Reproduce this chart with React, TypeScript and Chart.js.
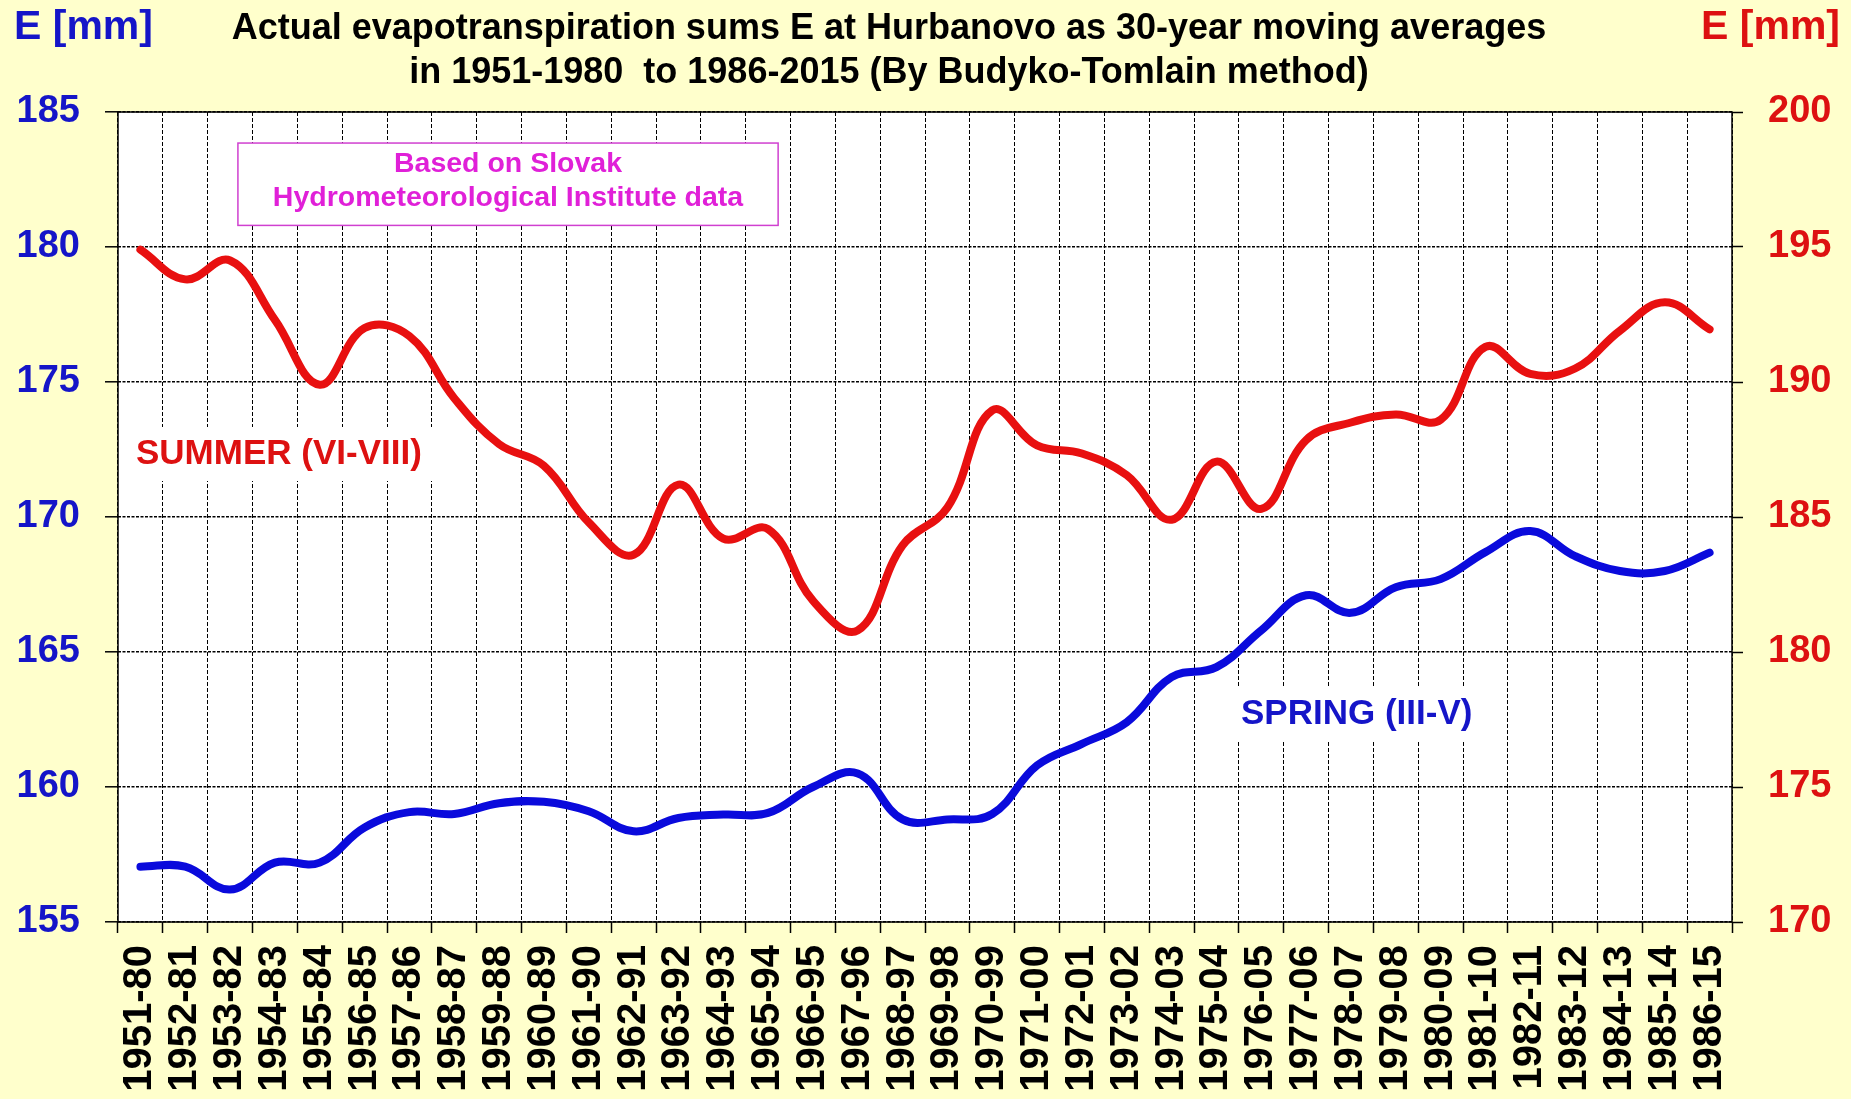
import { useEffect, useRef } from "react";
import { Chart, registerables } from "chart.js";

Chart.register(...registerables);

const periods = [
  "1951-80", "1952-81", "1953-82", "1954-83", "1955-84", "1956-85", "1957-86", "1958-87", "1959-88",
  "1960-89", "1961-90", "1962-91", "1963-92", "1964-93", "1965-94", "1966-95", "1967-96", "1968-97",
  "1969-98", "1970-99", "1971-00", "1972-01", "1973-02", "1974-03", "1975-04", "1976-05", "1977-06",
  "1978-07", "1979-08", "1980-09", "1981-10", "1982-11", "1983-12", "1984-13", "1985-14", "1986-15",
];

// SPRING (III-V), left axis
const springE = [
  157.05, 157.05, 156.2, 157.2, 157.2, 158.5, 159.07, 159.0, 159.4,
  159.45, 159.1, 158.36, 158.85, 158.98, 159.04, 160.0, 160.5, 158.8,
  158.8, 159.0, 160.8, 161.6, 162.4, 164.07, 164.44, 165.8, 167.1,
  166.45, 167.4, 167.7, 168.7, 169.48, 168.55, 168.0, 168.0, 168.68,
];

// SUMMER (VI-VIII), right axis
const summerE = [
  194.9, 193.8, 194.5, 192.3, 189.9, 192.0, 191.7, 189.4, 187.7,
  186.9, 184.8, 183.6, 186.2, 184.2, 184.55, 181.9, 180.8, 183.95,
  185.35, 188.95, 187.65, 187.35, 186.55, 184.9, 187.05, 185.3, 187.85,
  188.5, 188.8, 188.6, 191.3, 190.3, 190.5, 191.9, 192.95, 191.95,
];

const leftTicks = [155, 160, 165, 170, 175, 180, 185];
const rightTicks = [170, 175, 180, 185, 190, 195, 200];

const titleLines = [
  "Actual evapotranspiration sums E at Hurbanovo as 30-year moving averages",
  "in 1951-1980  to 1986-2015 (By Budyko-Tomlain method)",
];
const noteLines = ["Based on Slovak", "Hydrometeorological Institute data"];
const axisUnit = "E [mm]";
const summerLabel = "SUMMER (VI-VIII)";
const springLabel = "SPRING (III-V)";

const FONT = '"Liberation Sans", Arial, Helvetica, sans-serif';
const RED = "#E81010";
const BLUE = "#0A0ADC";
const BLUE_TEXT = "#1515C8";
const RED_TEXT = "#DD1111";
const MAGENTA = "#E020D8";

export default function App() {
  const ref = useRef<HTMLCanvasElement>(null);

  useEffect(() => {
    document.body.style.margin = "0";
    const canvas = ref.current!;

    const overlay = {
      id: "overlay",
      beforeDraw(chart: any) {
        const { ctx, chartArea: a } = chart;
        ctx.save();
        ctx.fillStyle = "#FFFFFF";
        ctx.fillRect(a.left, a.top, a.right - a.left, a.bottom - a.top);
        ctx.restore();
      },
      beforeDatasetsDraw(chart: any) {
        const { ctx, chartArea: a } = chart;
        const y = chart.scales.y;
        const w0 = a.right - a.left;
        ctx.save();
        // note box
        const bx = a.left + w0 * 0.0743;
        const bx2 = a.left + w0 * 0.409;
        const by = y.getPixelForValue(183.85);
        const by2 = y.getPixelForValue(180.8);
        ctx.fillStyle = "#FFFFFF";
        ctx.fillRect(bx, by, bx2 - bx, by2 - by);
        ctx.strokeStyle = "#D040D0";
        ctx.lineWidth = 1.5;
        ctx.strokeRect(bx, by, bx2 - bx, by2 - by);
        ctx.fillStyle = MAGENTA;
        ctx.font = `bold 28.5px ${FONT}`;
        ctx.textAlign = "center";
        ctx.textBaseline = "middle";
        const cx = (bx + bx2) / 2;
        ctx.fillText(noteLines[0], cx, by + 21);
        ctx.fillText(noteLines[1], cx, by + 55);

        // series labels with white backdrop
        ctx.font = `bold 35px ${FONT}`;
        ctx.textAlign = "left";
        const drawLabel = (text: string, lx: number, ly: number, color: string) => {
          const w = ctx.measureText(text).width;
          ctx.fillStyle = "#FFFFFF";
          ctx.fillRect(lx - 14, ly - 27, w + 26, 54);
          ctx.fillStyle = color;
          ctx.fillText(text, lx, ly);
        };
        drawLabel(summerLabel, 136, 454, RED_TEXT);
        drawLabel(springLabel, 1241, 714, BLUE_TEXT);

        // solid frame
        ctx.strokeStyle = "#000000";
        ctx.lineWidth = 1.5;
        ctx.strokeRect(a.left, a.top, a.right - a.left, a.bottom - a.top);
        ctx.restore();
      },
      afterDraw(chart: any) {
        const { ctx } = chart;
        ctx.save();
        ctx.textBaseline = "middle";
        ctx.textAlign = "center";
        ctx.fillStyle = "#000000";
        ctx.font = `bold 36px ${FONT}`;
        ctx.fillText(titleLines[0], 889, 29);
        ctx.fillText(titleLines[1], 889, 73);
        ctx.font = `bold 41px ${FONT}`;
        ctx.textAlign = "left";
        ctx.fillStyle = BLUE_TEXT;
        ctx.fillText(axisUnit, 14, 28);
        ctx.textAlign = "right";
        ctx.fillStyle = RED_TEXT;
        ctx.fillText(axisUnit, 1840, 28);
        ctx.restore();
      },
    };

    const chart = new Chart(canvas, {
      type: "line",
      data: {
        labels: periods,
        datasets: [
          {
            label: summerLabel,
            data: summerE,
            yAxisID: "y1",
            borderColor: RED,
            borderWidth: 8,
            tension: 0.4,
            pointRadius: 0,
            borderCapStyle: "round",
            borderJoinStyle: "round",
            fill: false,
          },
          {
            label: springLabel,
            data: springE,
            yAxisID: "y",
            borderColor: BLUE,
            borderWidth: 8,
            tension: 0.4,
            pointRadius: 0,
            borderCapStyle: "round",
            borderJoinStyle: "round",
            fill: false,
          },
        ],
      },
      options: {
        responsive: false,
        animation: false,
        devicePixelRatio: 1,
        layout: { padding: { top: 112, left: 0, right: 0, bottom: 0 } },
        plugins: {
          legend: { display: false },
          title: { display: false },
          tooltip: { enabled: false },
        },
        scales: {
          x: {
            type: "category",
            offset: true,
            afterFit: (s: any) => {
              s.height = 177;
            },
            grid: {
              offset: true,
              color: "#000000",
              lineWidth: 1,
              drawTicks: true,
              tickLength: 11,
              tickColor: "#000000",
              tickWidth: 1.5,
            },
            border: { display: false, dash: [4, 2] },
            ticks: {
              autoSkip: false,
              maxRotation: 90,
              minRotation: 90,
              padding: 12,
              color: "#000000",
              font: { family: FONT, size: 40, weight: "bold" },
            },
          },
          y: {
            position: "left",
            min: 155,
            max: 185,
            afterFit: (s: any) => {
              s.width = 118;
            },
            afterBuildTicks: (s: any) => {
              s.ticks = leftTicks.map((v) => ({ value: v }));
            },
            grid: {
              color: "#000000",
              lineWidth: 1.6,
              drawTicks: true,
              tickLength: 13,
              tickColor: "#000000",
              tickWidth: 1.5,
            },
            border: { display: false, dash: [3, 1.5] },
            ticks: {
              padding: 25,
              color: BLUE_TEXT,
              font: { family: FONT, size: 38, weight: "bold" },
            },
          },
          y1: {
            position: "right",
            min: 170,
            max: 200,
            afterFit: (s: any) => {
              s.width = 119;
            },
            afterBuildTicks: (s: any) => {
              s.ticks = rightTicks.map((v) => ({ value: v }));
            },
            grid: {
              drawOnChartArea: false,
              drawTicks: true,
              tickLength: 11,
              tickColor: "#000000",
              tickWidth: 1.5,
            },
            border: { display: false },
            ticks: {
              padding: 25,
              color: RED_TEXT,
              font: { family: FONT, size: 38, weight: "bold" },
            },
          },
        },
      },
      plugins: [overlay],
    } as any);

    return () => chart.destroy();
  }, []);

  return (
    <div style={{ width: 1851, height: 1099, background: "#FFFFCC", overflow: "hidden" }}>
      <canvas ref={ref} width={1851} height={1099} style={{ display: "block" }} />
    </div>
  );
}
